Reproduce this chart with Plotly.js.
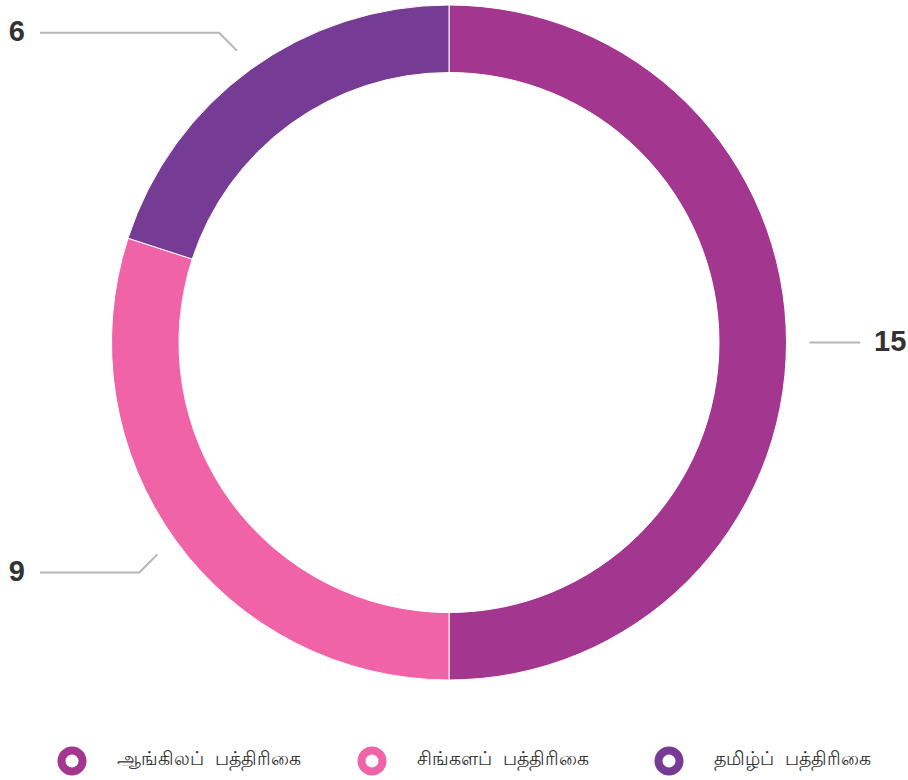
<!DOCTYPE html>
<html>
<head>
<meta charset="utf-8">
<script src="https://cdn.plot.ly/plotly-3.0.1.min.js"></script>
<style>
  body { margin: 0; background: #fff; }
  #chart { width: 908px; height: 780px; }
</style>
</head>
<body>
<div id="chart"></div>
<script>
// data
var papers = ['ஆங்கிலப் பத்திரிகை', 'சிங்களப் பத்திரிகை', 'தமிழ்ப் பத்திரிகை'];
var counts = [15, 9, 6];
var colours = ['#A3368F', '#F064A7', '#763B94'];

// page + donut geometry (pixels)
var W = 908, H = 780;
var cx = 449, cy = 342.5, R = 337.5;
var legendX = [72, 372, 669];
var legendY = 761;

var donut = {
  type: 'pie',
  values: counts,
  labels: papers,
  hole: 0.8,
  sort: false,
  direction: 'clockwise',
  rotation: 0,
  textinfo: 'none',
  hoverinfo: 'label+value',
  marker: { colors: colours, line: { color: '#ffffff', width: 1 } },
  domain: { x: [(cx - R) / W, (cx + R) / W], y: [1 - (cy + R) / H, 1 - (cy - R) / H] },
  showlegend: false
};

// leader lines + value labels, starting at each slice's mid angle
var total = counts.reduce(function (a, b) { return a + b; }, 0);
var lineX = [], lineY = [];
var leftLab = { x: [], y: [], text: [] }, rightLab = { x: [], y: [], text: [] };
var acc = 0;
counts.forEach(function (v) {
  var mid = (acc + v / 2) / total * 2 * Math.PI;
  acc += v;
  var s = Math.sin(mid), c = Math.cos(mid);
  var x0 = cx + (R + 23) * s, y0 = cy - (R + 23) * c;
  var right = s > 0;
  var d = Math.abs(c) < 0.05 ? 0 : 18;
  var x1 = x0 + (right ? d : -d), y1 = y0 + (c > 0 ? -d : d);
  var x2 = right ? 860 : 40;
  lineX.push(x0, x1, x2, null);
  lineY.push(y0, y1, y1, null);
  var lab = right ? rightLab : leftLab;
  lab.x.push(right ? 874 : 25);
  lab.y.push(y1 + 1);
  lab.text.push(String(v));
});

var leaders = {
  type: 'scatter', mode: 'lines', x: lineX, y: lineY,
  line: { color: '#b5b5b5', width: 2 }, hoverinfo: 'skip', showlegend: false
};
var labelFont = { family: 'Liberation Sans, Arial, sans-serif', size: 29, color: '#333333', weight: 'bold' };
var leftLabels = {
  type: 'scatter', mode: 'text', x: leftLab.x, y: leftLab.y, text: leftLab.text,
  textposition: 'middle left', textfont: labelFont, hoverinfo: 'skip', showlegend: false
};
var rightLabels = {
  type: 'scatter', mode: 'text', x: rightLab.x, y: rightLab.y, text: rightLab.text,
  textposition: 'middle right', textfont: labelFont, hoverinfo: 'skip', showlegend: false
};

// legend drawn as ring markers + text
var legendRings = {
  type: 'scatter', mode: 'markers',
  x: legendX, y: legendX.map(function () { return legendY; }),
  marker: { symbol: 'circle-open', size: 21, color: colours, line: { color: colours, width: 8 } },
  hoverinfo: 'skip', showlegend: false
};
var legendText = {
  type: 'scatter', mode: 'text',
  x: legendX.map(function (x) { return x + 45; }), y: legendX.map(function () { return legendY - 1; }),
  text: papers.map(function (p) { return p.replace(' ', '\u00a0 '); }),
  textposition: 'middle right',
  textfont: { family: 'sans-serif', size: 19, color: '#333333' },
  hoverinfo: 'skip', showlegend: false
};

var layout = {
  width: W, height: H,
  margin: { l: 0, r: 0, t: 0, b: 0 },
  paper_bgcolor: '#ffffff', plot_bgcolor: '#ffffff',
  xaxis: { range: [0, W], visible: false, fixedrange: true },
  yaxis: { range: [H, 0], visible: false, fixedrange: true },
  showlegend: false
};

Plotly.newPlot('chart', [donut, leaders, leftLabels, rightLabels, legendRings, legendText], layout, { displayModeBar: false, staticPlot: true });
</script>
</body>
</html>
